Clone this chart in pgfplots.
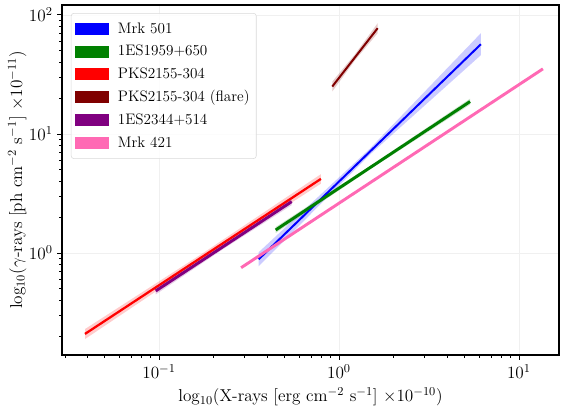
\RequirePackage{fix-cm}
\documentclass[border=0pt]{standalone}
\usepackage{pgfplots}
\pgfplotsset{compat=1.18}
\definecolor{grn}{RGB}{0,128,0}
\definecolor{dred}{RGB}{128,0,0}
\definecolor{purp}{RGB}{128,0,128}
\definecolor{mpink}{RGB}{255,105,180}

\begin{document}
\begin{tikzpicture}
\begin{axis}[
  scale only axis, width=372.75pt, height=262.5pt,
  xmode=log, ymode=log,
  xmin=0.0289, xmax=16.7, ymin=0.139, ymax=121,
  axis line style={line width=0.9pt},
  tick align=outside, tick pos=left,
  major tick length=3.5pt, minor tick length=2pt,
  every tick/.style={black, line width=0.6pt},
  grid=major, major grid style={gray!12, line width=0.5pt},
  ticklabel style={font=\fontsize{12.9}{15}\selectfont},
  label style={font=\fontsize{12.9}{15}\selectfont},
  xlabel={log$_{10}$(X-rays [erg cm$^{-2}$ s$^{-1}$] $\times10^{-10}$)},
  ylabel={log$_{10}$($\gamma$-rays [ph cm$^{-2}$ s$^{-1}$] $\times10^{-11}$)},
  ylabel shift=-5pt,
  legend style={at={(0.018,0.977)}, anchor=north west, draw=gray!30,
    rounded corners=2pt, fill=white, fill opacity=0.8, text opacity=1,
    font=\fontsize{11.4}{13}\selectfont, row sep=3.5pt, inner xsep=3pt, inner ysep=5pt},
  legend cell align=left,
  legend image code/.code={\fill[#1, draw=none, fill opacity=1, sharp corners]
    (0pt,-4.5pt) rectangle (25pt,4.5pt);
    \path[draw=none, fill=none] (0pt,0pt) -- (30pt,0pt);},
]
\coordinate (sw) at (rel axis cs:0,0);
\coordinate (ne) at (rel axis cs:1,1);

% confidence bands
\addplot[fill=blue, fill opacity=0.2, draw=none, forget plot] coordinates
  {(0.358,1.014) (1.484,7.51) (6.15,70.2) (6.15,45.9) (1.484,6.69) (0.358,0.773)};
\addplot[fill=grn, fill opacity=0.2, draw=none, forget plot] coordinates
  {(0.445,1.652) (1.542,5.58) (5.35,19.77) (5.35,17.62) (1.542,5.21) (0.445,1.472)};
\addplot[fill=red, fill opacity=0.2, draw=none, forget plot] coordinates
  {(0.0388,0.2296) (0.1755,0.9966) (0.794,4.59) (0.794,3.82) (0.1755,0.876) (0.0388,0.1892)};
\addplot[fill=dred, fill opacity=0.2, draw=none, forget plot] coordinates
  {(0.918,27.5) (1.227,46.6) (1.641,85.1) (1.641,70.2) (1.227,41.5) (0.918,22.7)};
\addplot[fill=purp, fill opacity=0.2, draw=none, forget plot] coordinates
  {(0.0959,0.514) (0.2288,1.191) (0.546,2.89) (0.546,2.52) (0.2288,1.086) (0.0959,0.448)};

% fits
\addplot[color=blue, line width=1.5pt] coordinates {(0.358,0.885) (6.15,56.7)};
\addlegendentry{Mrk 501}
\addplot[color=grn, line width=2.2pt] coordinates {(0.445,1.56) (5.35,18.7)};
\addlegendentry{1ES1959+650}
\addplot[color=red, line width=1.7pt] coordinates {(0.0388,0.209) (0.794,4.19)};
\addlegendentry{PKS2155-304}
\addplot[color=dred, line width=1.5pt] coordinates {(0.918,25.0) (1.641,77.3)};
\addlegendentry{PKS2155-304 (flare)}
\addplot[color=purp, line width=2.2pt] coordinates {(0.0959,0.48) (0.546,2.70)};
\addlegendentry{1ES2344+514}
\addplot[color=mpink, line width=2.2pt] coordinates {(0.286,0.752) (13.6,35.2)};
\addlegendentry{Mrk 421}
\end{axis}
\pgfresetboundingbox
\useasboundingbox ([xshift=-46.5pt,yshift=-38.25pt]sw) rectangle ([xshift=1.5pt,yshift=3.75pt]ne);
\end{tikzpicture}
\end{document}
